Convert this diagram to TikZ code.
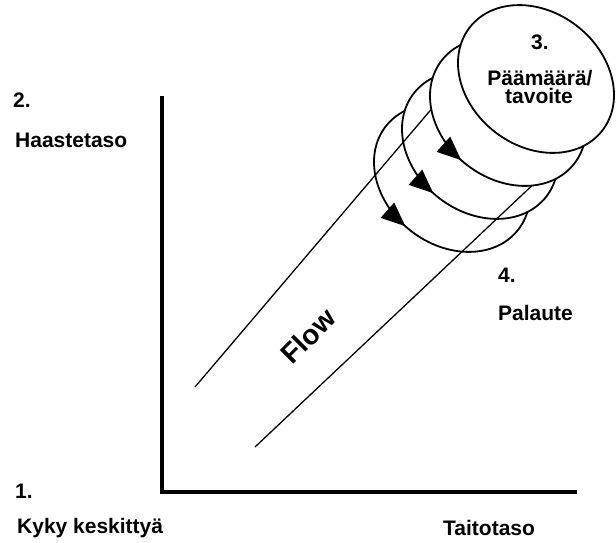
\documentclass[tikz,border=0pt]{standalone}
\usepackage{fontspec}
\setmainfont{Liberation Sans}
\usetikzlibrary{arrows.meta, decorations.markings}

\tikzset{
  lbl/.style={font=\fontsize{21}{21}\selectfont\bfseries, inner sep=0pt, anchor=base west},
  disc/.style={draw, fill=white, line width=1.8pt},
  flowarrow/.style={postaction={decorate}, decoration={markings,
    mark=at position 0.735 with {\arrow{Triangle[length=24pt,width=20pt]}}}}
}

\begin{document}
\begin{tikzpicture}[x=1pt, y=1pt]
  \useasboundingbox (0,0) rectangle (616,542);
  % akselit
  \coordinate (Top) at (162,446);
  \coordinate (O) at (162,50);
  \coordinate (End) at (577,50);
  \draw[line width=3.2pt] (Top) -- (O) -- (End);
  % kiekkojen keskipisteet
  \coordinate (C1) at (536,463);
  \coordinate (C2) at (508,430);
  \coordinate (C3) at (480,397);
  \coordinate (C4) at (452,364);
  % takimmaiset kiekot
  \foreach \c in {C4,C3}
    \draw[disc, flowarrow, rotate around={-38:(\c)}] (\c) ellipse [x radius=84pt, y radius=67pt];
  % flow-kanava
  \coordinate (L1a) at (195,155);
  \coordinate (L1b) at (440,443);
  \coordinate (L2a) at (255,95);
  \coordinate (L2b) at (540,364);
  \draw[line width=1.3pt] (L1a) -- (L1b);
  \draw[line width=1.3pt] (L2a) -- (L2b);
  % etummaiset kiekot
  \draw[disc, flowarrow, rotate around={-38:(C2)}] (C2) ellipse [x radius=84pt, y radius=67pt];
  \draw[disc, rotate around={-38:(C1)}] (C1) ellipse [x radius=84pt, y radius=67pt];
  % tekstit
  \node[lbl] (n2) at (13,434) {2.};
  \node[lbl] (haaste) at (15,394) {Haastetaso};
  \node[lbl] (n1) at (15,44) {1.};
  \node[lbl] (kyky) at (17,9) {Kyky keskittyä};
  \node[lbl] (taito) at (443,7) {Taitotaso};
  \node[lbl, anchor=base] (n3) at (540,492) {3.};
  \node[lbl, anchor=base] (paamaara) at (540,456) {Päämäärä/};
  \node[lbl, anchor=base] (tavoite) at (539,438) {tavoite};
  \node[lbl] (n4) at (498,260) {4.};
  \node[lbl] (palaute) at (498,222) {Palaute};
  \node[font=\fontsize{28}{28}\selectfont\bfseries, rotate=45, inner sep=0pt] (flow) at (308,206) {Flow};
\end{tikzpicture}
\end{document}
